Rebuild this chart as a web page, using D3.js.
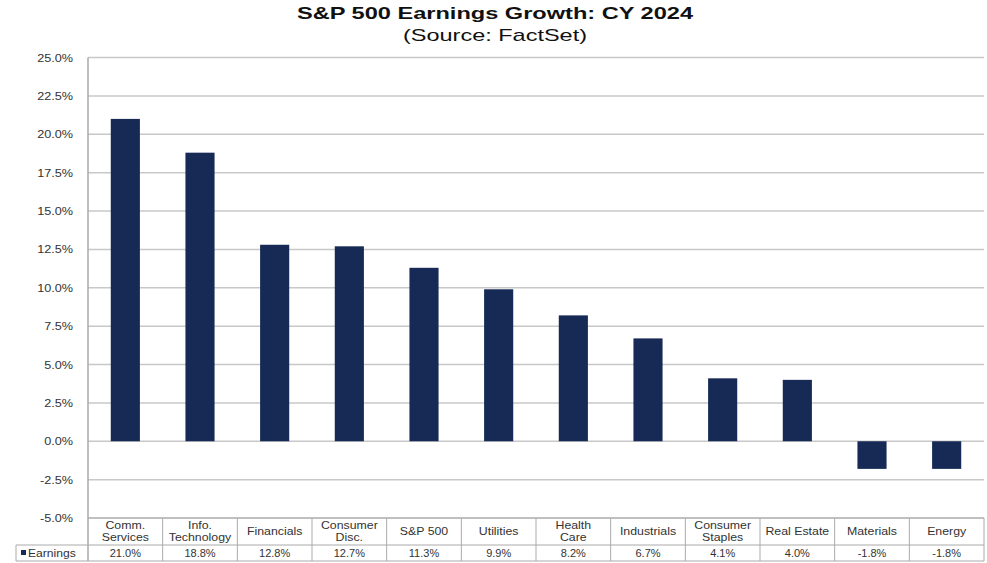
<!DOCTYPE html>
<html>
<head>
<meta charset="utf-8">
<script src="https://cdn.jsdelivr.net/npm/d3@7"></script>
<style>
  body { margin: 0; background: #fff; }
  svg { font-family: "Liberation Sans", Arial, sans-serif; }
</style>
</head>
<body>
<svg id="chart" width="987" height="563"></svg>
<script>
// chart data
const categories = [
  ["Comm.", "Services"], ["Info.", "Technology"], ["Financials"], ["Consumer", "Disc."],
  ["S&P 500"], ["Utilities"], ["Health", "Care"], ["Industrials"],
  ["Consumer", "Staples"], ["Real Estate"], ["Materials"], ["Energy"]
];
const earnings = [21.0, 18.8, 12.8, 12.7, 11.3, 9.9, 8.2, 6.7, 4.1, 4.0, -1.8, -1.8];
const yTicks = [-5, -2.5, 0, 2.5, 5, 7.5, 10, 12.5, 15, 17.5, 20, 22.5, 25];
const seriesName = "Earnings";

const svg = d3.select("#chart");
const barColor = "#172a55";
const gridColor = "#c8c8c8";
const textColor = "#333";

const plotLeft = 88, plotRight = 984, plotTop = 57.5, plotBottom = 518;
const rowTop = 518, rowMid = 545, rowBottom = 561, tableLeft = 16;

// pct label with a plain hyphen for negatives, like the source
const pct = d => (d < 0 ? "-" : "") + d3.format(".1f")(Math.abs(d)) + "%";

// the source text is a bit wider than Arial, stretch it horizontally
function stretch(sel, k) {
  sel.each(function() {
    const len = this.getComputedTextLength();
    d3.select(this).attr("textLength", len * k).attr("lengthAdjust", "spacingAndGlyphs");
  });
}

var x = d3.scaleBand()
  .domain(d3.range(categories.length))
  .range([plotLeft, plotRight])
  .paddingInner(0.61).paddingOuter(0.305);

var y = d3.scaleLinear().domain([-5, 25]).range([plotBottom, plotTop]);

// title
svg.append("text")
  .attr("x", 495).attr("y", 18.5)
  .attr("text-anchor", "middle")
  .style("font-weight", "bold").style("font-size", "17px").style("fill", "#111")
  .attr("textLength", 396).attr("lengthAdjust", "spacingAndGlyphs")
  .text("S&P 500 Earnings Growth: CY 2024");
svg.append("text")
  .attr("x", 495).attr("y", 41)
  .attr("text-anchor", "middle")
  .style("font-size", "17px").style("fill", "#111")
  .attr("textLength", 184).attr("lengthAdjust", "spacingAndGlyphs")
  .text("(Source: FactSet)");

// gridlines
svg.append("g")
  .selectAll("line").data(yTicks).join("line")
  .attr("x1", plotLeft).attr("x2", plotRight)
  .attr("y1", d => y(d)).attr("y2", d => y(d))
  .attr("stroke", gridColor).attr("stroke-width", 1.5);

// y axis
var yAxis = d3.axisLeft(y).tickValues(yTicks).tickSize(0).tickPadding(15)
  .tickFormat(pct);
var yg = svg.append("g").attr("transform", `translate(${plotLeft},0)`).call(yAxis);
yg.select(".domain").remove();
yg.selectAll("text").style("font-size", "11px").style("fill", textColor)
  .attr("font-family", "'Liberation Sans', Arial, sans-serif")
  .call(stretch, 1.15);
svg.append("line")
  .attr("x1", plotLeft).attr("x2", plotLeft).attr("y1", plotTop).attr("y2", rowBottom)
  .attr("stroke", "#aaa").attr("stroke-width", 1.5);

// bars
svg.append("g")
  .selectAll("rect").data(earnings).join("rect")
  .attr("x", (d, i) => x(i))
  .attr("width", x.bandwidth())
  .attr("y", d => y(Math.max(0, d)))
  .attr("height", d => Math.abs(y(d) - y(0)))
  .attr("fill", barColor);

// data table
const step = x.step();
const tbl = svg.append("g");
const borderColor = "#aaa";
tbl.append("line").attr("x1", plotLeft).attr("x2", plotRight).attr("y1", rowTop).attr("y2", rowTop)
  .attr("stroke", borderColor);
tbl.append("line").attr("x1", tableLeft).attr("x2", plotRight).attr("y1", rowMid).attr("y2", rowMid)
  .attr("stroke", borderColor);
tbl.append("line").attr("x1", tableLeft).attr("x2", plotRight).attr("y1", rowBottom).attr("y2", rowBottom)
  .attr("stroke", borderColor);
tbl.append("line").attr("x1", tableLeft).attr("x2", tableLeft).attr("y1", rowMid).attr("y2", rowBottom)
  .attr("stroke", borderColor);
tbl.selectAll("line.sep").data(d3.range(1, categories.length + 1)).join("line")
  .attr("class", "sep")
  .attr("x1", i => plotLeft + i * step).attr("x2", i => plotLeft + i * step)
  .attr("y1", rowTop).attr("y2", rowBottom)
  .attr("stroke", borderColor);

// header labels
tbl.selectAll("text.cat").data(categories).join("text")
  .attr("class", "cat")
  .attr("text-anchor", "middle")
  .style("font-size", "11px").style("fill", textColor)
  .each(function(lines, i) {
    const t = d3.select(this);
    const cx = x(i) + x.bandwidth() / 2;
    const y0 = lines.length === 1 ? 535 : 529;
    lines.forEach((ln, k) => {
      t.append("tspan").attr("x", cx).attr("y", y0 + k * 12).text(ln);
    });
  });
tbl.selectAll("text.cat tspan").call(stretch, 1.12);

// value labels
tbl.selectAll("text.val").data(earnings).join("text")
  .attr("class", "val")
  .attr("x", (d, i) => x(i) + x.bandwidth() / 2)
  .attr("y", 557)
  .attr("text-anchor", "middle")
  .style("font-size", "11px").style("fill", textColor)
  .text(pct);

// legend cell
tbl.append("rect").attr("x", 21).attr("y", 550).attr("width", 5).attr("height", 5).attr("fill", barColor);
tbl.append("text").attr("x", 28).attr("y", 557)
  .style("font-size", "11px").style("fill", textColor)
  .text(seriesName)
  .call(stretch, 1.1);
</script>
</body>
</html>
